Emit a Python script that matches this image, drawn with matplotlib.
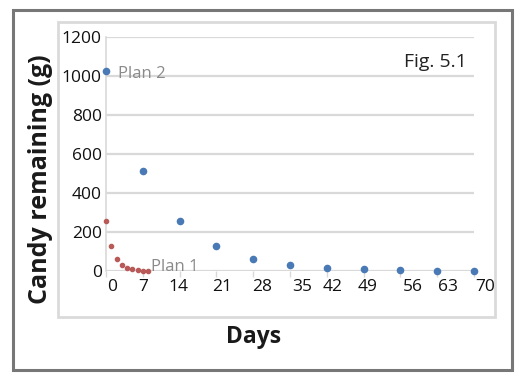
import numpy as np
import matplotlib.pyplot as plt
from matplotlib.patches import Rectangle
from matplotlib.transforms import offset_copy

# Plan 1: candy halved every day; Plan 2: candy halved every week
plan1_days = [0, 1, 2, 3, 4, 5, 6, 7, 8]
plan1_grams = [256, 128, 64, 32, 16, 8, 4, 2, 1]
plan2_days = [0, 7, 14, 21, 28, 35, 42, 49, 56, 63, 70]
plan2_grams = [1024, 512, 256, 128, 64, 32, 16, 8, 4, 2, 1]
x_ticks = [0, 7, 14, 21, 28, 35, 42, 49, 56, 63, 70]
y_ticks = [0, 200, 400, 600, 800, 1000, 1200]

# the x labels in the original sit a little off their ticks (pixels)
label_shift = [6, 0, -1, 6, 9, 12, 6, 4, 12, 11, 11]

plt.rcParams['font.family'] = ['Open Sans', 'DejaVu Sans']

fig = plt.figure(figsize=(5.22, 3.82), dpi=100)
fig.patch.set_facecolor('white')

# outer frame and inner chart area
fig.patches.append(Rectangle((0.025, 0.031), 0.956, 0.942, transform=fig.transFigure,
                             fill=False, edgecolor='#777777', linewidth=2.2))
fig.patches.append(Rectangle((0.111, 0.170), 0.837, 0.772, transform=fig.transFigure,
                             fill=False, edgecolor='#dadada', linewidth=2.0))

ax = fig.add_axes([0.2031, 0.2906, 0.705, 0.6126])
ax.set_xlim(0, 70)
ax.set_ylim(0, 1200)

ax.set_yticks(y_ticks)
ax.set_yticklabels([str(v) for v in y_ticks], fontsize=12.5, color='#111111')
ax.yaxis.grid(True, color='#d9d9d9', linewidth=1.6)
ax.set_axisbelow(True)

ax.set_xticks(x_ticks)
ax.set_xticklabels([])
for x, lab, dx in zip(x_ticks, x_ticks, label_shift):
    tr = offset_copy(ax.get_xaxis_transform(), fig=fig, x=dx, y=-8, units='dots')
    ax.text(x, 0, str(lab), transform=tr, ha='center', va='top', fontsize=12.5, color='#111111')

ax.tick_params(axis='x', length=4, color='#d9d9d9', width=1)
ax.tick_params(axis='y', length=0, pad=3)

for s in ['top', 'right', 'bottom']:
    ax.spines[s].set_visible(False)
ax.spines['left'].set_color('#d9d9d9')
ax.spines['left'].set_linewidth(1.2)

ax.scatter(plan2_days, plan2_grams, marker='o', s=20, color='#4a7ab5', zorder=3, clip_on=False)
ax.scatter(plan1_days, plan1_grams, marker='o', s=9, color='#b85a58', zorder=3, clip_on=False)

ax.text(2.2, 1010, 'Plan 2', fontsize=12, color='#8a8a8a', va='center')
ax.text(8.5, 20, 'Plan 1', fontsize=12, color='#8a8a8a', va='center')
ax.text(0.98, 0.93, 'Fig. 5.1', transform=ax.transAxes, fontsize=14, ha='right', va='top',
        color='#222222')

fig.text(0.077, 0.53, 'Candy remaining (g)', rotation=90, fontsize=18, fontweight='bold',
         ha='center', va='center', color='#1a1a1a')
fig.text(0.485, 0.118, 'Days', fontsize=16.5, fontweight='bold', ha='center', va='center',
         color='#1a1a1a')

plt.savefig('out.png', dpi=100)
